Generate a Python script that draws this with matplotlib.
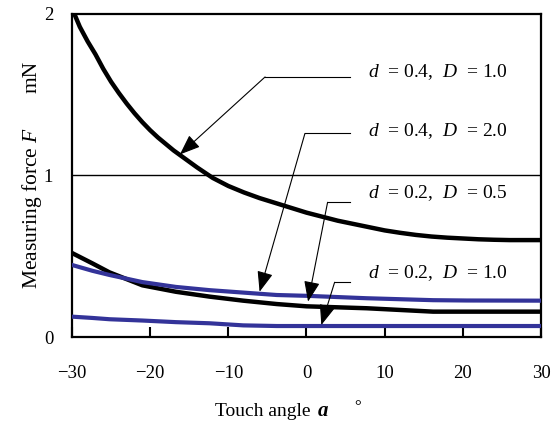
import matplotlib
matplotlib.use("Agg")
import matplotlib.pyplot as plt

plt.rcParams['font.family'] = ['Liberation Serif', 'DejaVu Serif']
plt.rcParams['mathtext.fontset'] = 'custom'
plt.rcParams['mathtext.rm'] = 'Liberation Serif'
plt.rcParams['mathtext.it'] = 'Liberation Serif:italic'
plt.rcParams['mathtext.bf'] = 'Liberation Serif:bold'

# Data
angle_big = [-29.7, -29, -28, -27, -26, -25, -24, -23, -22, -21, -20, -19, -18, -17, -16,
             -14, -12, -10, -8, -6, -4, -2, 0, 2, 4, 6, 8, 10, 12, 14, 16, 18, 20, 22,
             24, 26, 28, 30]
f_d04_D10 = [2.0, 1.92, 1.83, 1.75, 1.66, 1.58, 1.51, 1.445, 1.385, 1.33, 1.28, 1.235,
             1.195, 1.155, 1.12, 1.05, 0.985, 0.935, 0.895, 0.86, 0.83, 0.80, 0.77, 0.745,
             0.72, 0.70, 0.68, 0.66, 0.645, 0.632, 0.622, 0.615, 0.61, 0.605, 0.602, 0.60,
             0.60, 0.60]

angle_small = [-30, -27.4, -25.2, -21, -16.7, -12.4, -8.1, -3.8, 0, 7.7, 16.2, 20.5, 30]
f_d04_D20 = [0.52, 0.456, 0.40, 0.32, 0.28, 0.25, 0.225, 0.204, 0.19, 0.178, 0.157, 0.157, 0.157]
f_d02_D05 = [0.446, 0.41, 0.384, 0.34, 0.31, 0.29, 0.275, 0.26, 0.255, 0.24, 0.228, 0.226, 0.225]
f_d02_D10 = [0.126, 0.118, 0.11, 0.102, 0.092, 0.085, 0.072, 0.068, 0.068, 0.068, 0.068, 0.068, 0.068]

labels = ["$d$  = 0.4,  $D$  = 1.0", "$d$  = 0.4,  $D$  = 2.0",
          "$d$  = 0.2,  $D$  = 0.5", "$d$  = 0.2,  $D$  = 1.0"]
label_y = [1.64, 1.275, 0.89, 0.394]
leader_y = [1.61, 1.26, 0.834, 0.339]
leader_x0 = [-5.3, -0.2, 2.7, 3.6]
arrow_tip = [(-16.2, 1.13), (-6.0, 0.28), (0.2, 0.219), (1.9, 0.074)]

xticks = [-30, -20, -10, 0, 10, 20, 30]
yticks = [0, 1, 2]

blue = '#333399'

fig = plt.figure(figsize=(5.6, 4.23), dpi=100)
ax = fig.add_axes([0.1286, 0.2033, 0.966 - 0.1286, 0.967 - 0.2033])

ax.axhline(1.0, color='black', lw=1.0, zorder=1)
ax.plot(angle_big, f_d04_D10, color='black', lw=3.2, zorder=3)
ax.plot(angle_small, f_d04_D20, color='black', lw=3.2, zorder=3)
ax.plot(angle_small, f_d02_D05, color=blue, lw=3.0, zorder=3)
ax.plot(angle_small, f_d02_D10, color=blue, lw=3.0, zorder=3)

for lab, ly, hy, hx0, tip in zip(labels, label_y, leader_y, leader_x0, arrow_tip):
    ax.text(7.9, ly, lab, fontsize=14, ha='left', va='center')
    ax.plot([hx0, 5.6], [hy, hy], color='black', lw=0.8, zorder=4)
    ax.annotate('', xy=tip, xytext=(hx0, hy),
                arrowprops=dict(arrowstyle='-|>,head_length=0.9,head_width=0.35',
                                color='black', lw=0.8, shrinkA=0, shrinkB=0,
                                mutation_scale=14), zorder=5)

ax.set_xlim(-30, 30)
ax.set_ylim(0, 2)
ax.set_xticks(xticks)
ax.set_xticklabels([str(v).replace('-', '\u2212') for v in xticks])
ax.set_yticks(yticks)
ax.tick_params(axis='x', direction='in', length=7, width=1.5, labelsize=13.5, pad=20)
ax.tick_params(axis='y', length=0, labelsize=13.5, pad=13.5)
for sp in ax.spines.values():
    sp.set_linewidth(1.6)

fig.text(32 / 560, 1 - 208 / 423, "Measuring force $F$", rotation=90,
         fontsize=15.5, ha='center', va='center')
fig.text(32 / 560, 1 - 77 / 423, "mN", rotation=90,
         fontsize=15.5, ha='center', va='center')
fig.text(215 / 560, 1 - 416 / 423, "Touch angle", fontsize=14, ha='left', va='baseline')
fig.text(318 / 560, 1 - 416 / 423, "a", fontsize=15, fontweight='bold', fontstyle='italic',
         ha='left', va='baseline')
fig.text(358 / 560, 1 - 407 / 423, "\u00b0", fontsize=12, ha='center', va='center')

fig.savefig('out.png', dpi=100)
